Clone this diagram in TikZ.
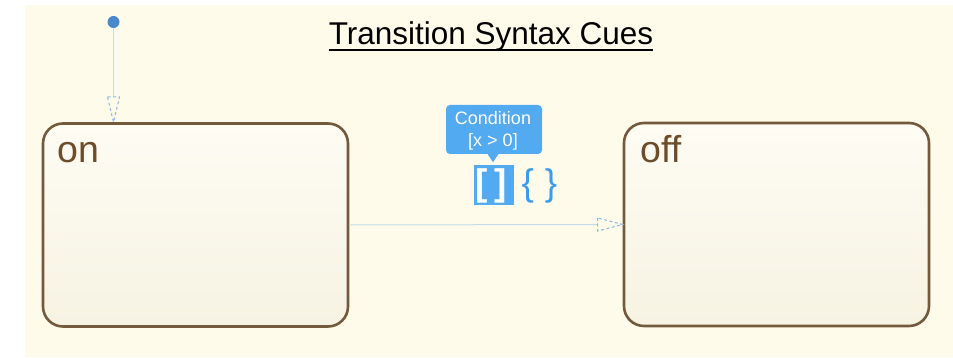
\documentclass[tikz,border=0pt]{standalone}
\usepackage{fontspec}
\setmainfont{Liberation Sans}
\usetikzlibrary{calc}

\definecolor{canvas}{HTML}{FFFBEB}
\definecolor{statetop}{HTML}{FEFCF3}
\definecolor{statebottom}{HTML}{F6F3E3}
\definecolor{stateedge}{HTML}{735A3D}
\definecolor{statetext}{HTML}{6E4B29}
\definecolor{junction}{HTML}{4A87CB}
\definecolor{transline}{HTML}{C6DAEE}
\definecolor{transhead}{HTML}{8DB6E2}
\definecolor{cueblue}{HTML}{52AAF0}
\definecolor{bracecue}{HTML}{3C9CEC}

\tikzset{
  statebox/.style={rounded corners=20pt, draw=stateedge, line width=2.6pt,
    top color=statetop, bottom color=statebottom,
    minimum width=305pt, minimum height=203pt, inner sep=0pt},
  statelabel/.style={text=statetext, inner sep=0pt,
    font=\fontsize{37.5}{40}\selectfont},
  transition/.style={draw=transline, line width=1pt},
  headtip/.style={draw=transhead, line width=1pt, dash pattern=on 3pt off 2.5pt},
  tiptext/.style={text=white, inner sep=0pt, font=\fontsize{18}{20}\selectfont},
}

\begin{document}
\begin{tikzpicture}[x=1pt,y=-1pt]
  \useasboundingbox (0,0) rectangle (953,358);
  \fill[canvas] (25,5) rectangle (953,357);

  % title
  \node[anchor=base, inner sep=0pt, font=\fontsize{31.5}{34}\selectfont] (title) at (491,45) {Transition Syntax Cues};
  \draw[line width=1.6pt] ($(title.base west)+(0,4.8)$) -- ($(title.base east)+(0,4.8)$);

  % states
  \node[statebox] (on)  at (195.5,225) {};
  \node[statebox] (off) at (776.5,224.5) {};
  \node[statelabel, anchor=base west] (onlabel)  at (57,163) {on};
  \node[statelabel, anchor=base west] (offlabel) at (640,163) {off};

  % default transition
  \node[circle, fill=junction, minimum size=12pt, inner sep=0pt] (dot) at (113.5,22) {};
  \coordinate (dothead) at (113.5,97);
  \draw[transition] (dot) -- (dothead);
  \draw[headtip] ($(dothead)+(-6,0)$) -- ($(dothead)+(6,0)$) -- (on.north -| dot) -- cycle;

  % on -> off
  \coordinate (ofhead) at ($(off.west)+(-25,0)$);
  \draw[transition] (on.east) -- (ofhead);
  \draw[headtip] ($(ofhead)+(0,-6.5)$) -- ($(ofhead)+(0,6.5)$) -- (off.west) -- cycle;

  % condition tooltip
  \node[fill=cueblue, rounded corners=4pt, minimum width=96pt, minimum height=49pt, inner sep=0pt] (tip) at (494,129.5) {};
  \fill[cueblue] ($(tip.south)+(-7,-1)$) -- ($(tip.south)+(5,-1)$) -- ($(tip.south)+(-1,8)$) -- cycle;
  \node[tiptext, anchor=base] (tipa) at (493,125) {Condition};
  \node[tiptext, anchor=base] (tipb) at (493,147) {[x > 0]};

  % condition / action cue buttons
  \node[fill=cueblue, minimum size=40pt, inner sep=0pt] (cond) at (493.5,185) {};
  \node[text=white, inner sep=0pt, anchor=base, font=\fontsize{37}{38}\bfseries] (condtxt) at (491.5,196) {[\hspace{7pt}]};
  \node[text=bracecue, inner sep=0pt, anchor=base, font=\fontsize{37}{38}\selectfont] (act) at (539.5,196) {\{\hspace{11pt}\}};
\end{tikzpicture}
\end{document}
